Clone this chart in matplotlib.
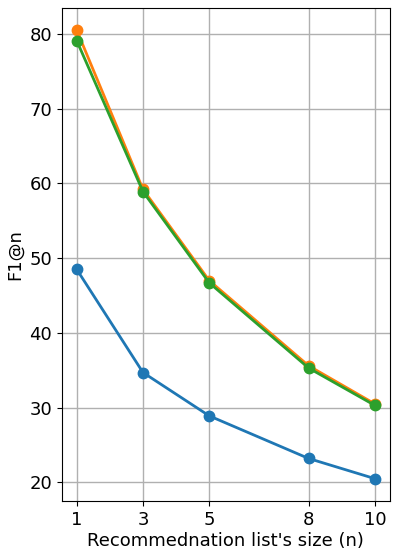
import matplotlib
matplotlib.use("Agg")
import matplotlib.pyplot as plt

# List sizes and F1@n per method
list_sizes = [1, 3, 5, 8, 10]
f1_blue = [48.5, 34.7, 28.9, 23.2, 20.5]
f1_orange = [80.5, 59.2, 47.0, 35.6, 30.5]
f1_green = [79.1, 58.9, 46.7, 35.3, 30.3]

fig, ax = plt.subplots(figsize=(3.99, 5.58), dpi=100)
fig.subplots_adjust(left=0.155, right=0.977, top=0.986, bottom=0.102)

for vals in (f1_blue, f1_orange, f1_green):
    ax.plot(list_sizes, vals, marker='o', linewidth=2, markersize=7.5)

ax.set_xticks(list_sizes)
ax.grid(True, color='#b0b0b0', linewidth=1)
ax.tick_params(labelsize=13)
ax.set_xlabel("Recommednation list's size (n)", fontsize=13, labelpad=2)
ax.set_ylabel("F1@n", fontsize=13)

fig.savefig("out.png", dpi=100)
